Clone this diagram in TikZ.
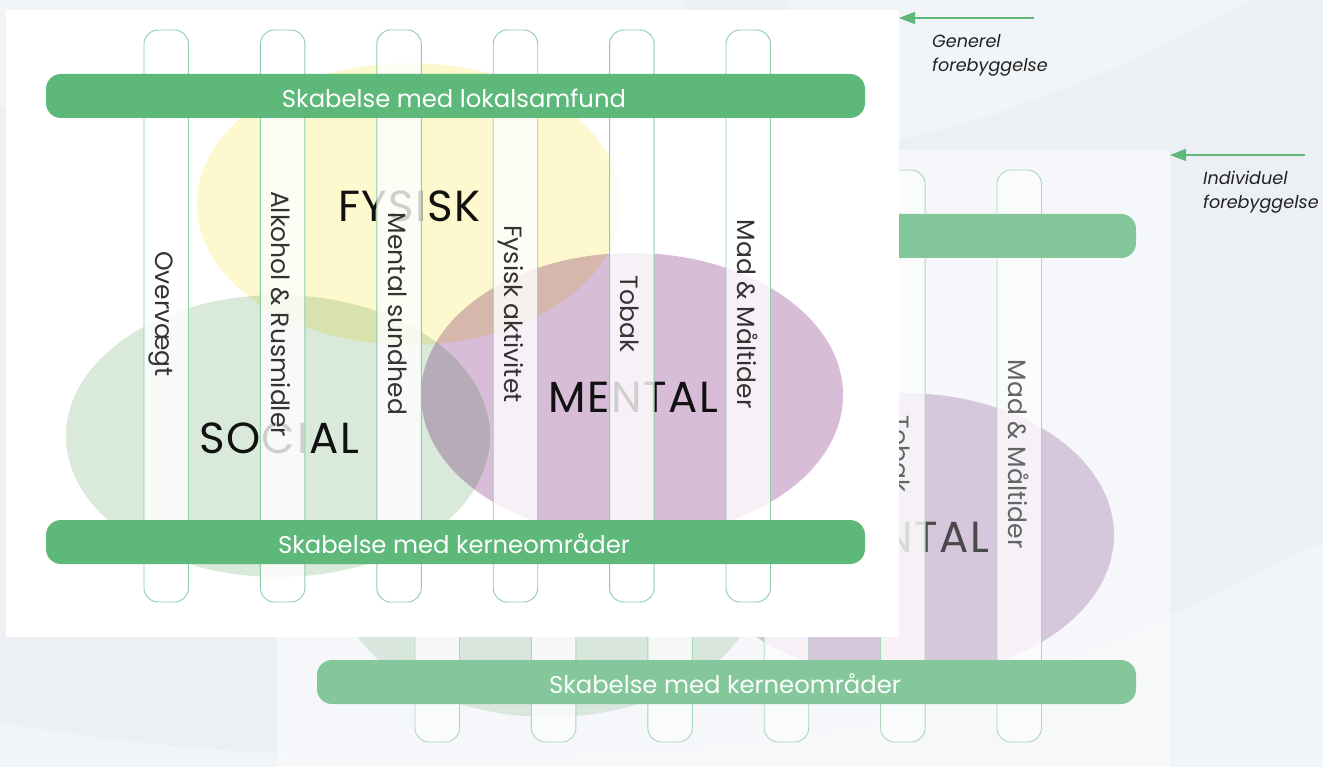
\documentclass[tikz,border=0pt]{standalone}
\usepackage{fontspec}
\setmainfont{Poppins}
\usetikzlibrary{arrows.meta}
\definecolor{bgbase}{HTML}{ECF0F5}
\definecolor{bglight}{HTML}{F2F5F8}
\definecolor{backpanel}{HTML}{F5F7FA}
\definecolor{backlight}{HTML}{F8F9FB}
\definecolor{bargreen}{HTML}{5DB87A}
\definecolor{pillarline}{HTML}{8DCFA5}
\definecolor{ellyellow}{HTML}{FDF8CD}
\definecolor{ellgreen}{HTML}{D9E9DA}
\definecolor{ellpurple}{HTML}{D7BDD7}
\definecolor{labelgrey}{HTML}{333333}
\definecolor{bigtext}{HTML}{111111}
\definecolor{sidetext}{HTML}{222222}

\tikzset{
  pillarbox/.style={draw=pillarline, line width=0.9pt, fill=white, fill opacity=0.8, rounded corners=14pt},
  barbox/.style={fill=bargreen, rounded corners=15pt},
  bartext/.style={text=white, font=\fontsize{24.3}{30}\selectfont, anchor=base, inner sep=0pt},
  biglabel/.style={text=bigtext, font=\fontsize{43.5}{50}\selectfont\addfontfeature{LetterSpace=3.5}, anchor=base, inner sep=0pt},
  pillarlabel/.style={text=labelgrey, font=\fontsize{25}{30}\selectfont, rotate=-90, anchor=base, inner sep=0pt},
  sidelabel/.style={text=sidetext, font=\itshape\fontsize{17.6}{22}\selectfont, anchor=base west, inner sep=0pt},
  sidearrow/.style={draw=bargreen, line width=1.6pt, -{Triangle[length=16pt,width=12pt]}},
}

\newcommand{\panelcontent}{%
  \begin{scope}[blend mode=multiply]
    \fill[ellgreen] (278,436) ellipse [x radius=212, y radius=141];
    \fill[ellyellow] (409,204) ellipse [x radius=212, y radius=141];
    \fill[ellpurple] (632,395) ellipse [x radius=211, y radius=142];
  \end{scope}
  \node[biglabel] (fysisk) at (409.5,222) {FYSISK};
  \node[biglabel] (social) at (279,453) {SOCIAL};
  \node[biglabel] (mental) at (633,412) {MENTAL};
  \foreach \i/\lab in {0/Overvægt,1/Alkohol \& Rusmidler,2/Mental sundhed,3/Fysisk aktivitet,4/Tobak,5/Mad \& Måltider}{
    \pgfmathsetmacro{\xl}{144+116.4*\i}
    \path[pillarbox] (\xl,30) rectangle ++(44.5,572);
    \node[pillarlabel] (lab\i) at (\xl+11.25,314) {\lab};
  }
  \fill[barbox] (46,74) rectangle (865,118);
  \fill[barbox] (46,520) rectangle (865,564);
  \node[bartext] (toptext) at (454,107.5) {Skabelse med lokalsamfund};
  \node[bartext] (bottext) at (454,553) {Skabelse med kerneområder};
}

\begin{document}
\begin{tikzpicture}[x=1pt,y=-1pt]
\useasboundingbox (0,0) rectangle (1323,767);
\clip (0,0) rectangle (1323,767);
% background
\fill[bgbase] (0,0) rectangle (1323,767);
\fill[bglight] (0,0) -- (1250,0) .. controls (1120,72) and (1000,118) .. (899,140) .. controls (600,200) and (250,150) .. (0,108) -- cycle;
\fill[bgbase] (684,0) -- (783,0) -- (790,10) -- (690,10) -- cycle;
\fill[bglight] (0,722) .. controls (200,760) and (500,772) .. (800,736) .. controls (1000,705) and (1150,625) .. (1323,542) -- (1323,767) -- (0,767) -- cycle;
% back panel (individuel)
\fill[backpanel] (277,150) rectangle (1170,767);
\begin{scope}
  \clip (277,150) rectangle (1170,767);
  \fill[backlight] (0,722) .. controls (200,760) and (500,772) .. (800,736) .. controls (1000,705) and (1150,625) .. (1323,542) -- (1323,767) -- (0,767) -- cycle;
\end{scope}
\begin{scope}[shift={(271,140)}, name prefix=back-]
  \panelcontent
\end{scope}
\fill[backpanel, fill opacity=0.25] (277,150) rectangle (1170,767);
% front panel (generel)
\fill[white] (6,10) rectangle (899,637);
\panelcontent
% side arrows and labels
\coordinate (genstart) at (1034,18);
\coordinate (genend) at (899,18);
\draw[sidearrow] (genstart) -- (genend);
\node[sidelabel] (gen1) at (932,47.5) {Generel};
\node[sidelabel] (gen2) at (932,71.5) {forebyggelse};
\coordinate (indstart) at (1305,155);
\coordinate (indend) at (1170,155);
\draw[sidearrow] (indstart) -- (indend);
\node[sidelabel] (ind1) at (1203,185) {Individuel};
\node[sidelabel] (ind2) at (1203,209) {forebyggelse};
\end{tikzpicture}
\end{document}
